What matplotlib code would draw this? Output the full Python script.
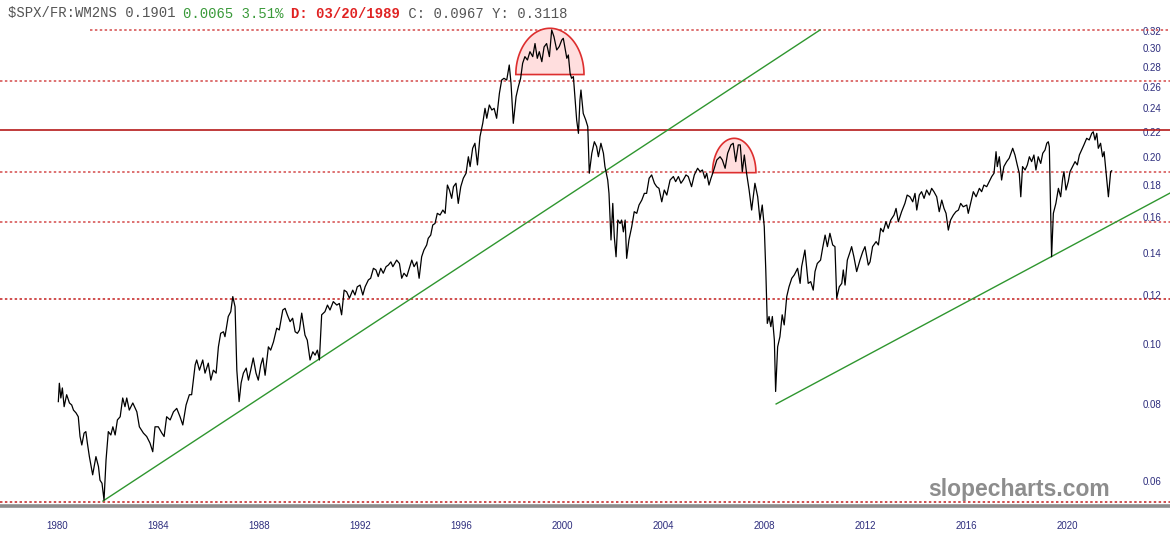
import numpy as np
import matplotlib
matplotlib.use("Agg")
import matplotlib.pyplot as plt
from matplotlib.ticker import NullLocator

# ---------------- data ----------------
ratio_1980s = [
    (1980.05, .0806), (1980.09, .0863), (1980.15, .0817), (1980.21, .0848), (1980.28, .0791),
    (1980.38, .0827), (1980.49, .0802), (1980.58, .0796), (1980.65, .0781), (1980.75, .0773),
    (1980.84, .0762), (1980.91, .0708), (1980.98, .0686), (1981.07, .0717), (1981.14, .0721),
    (1981.20, .0691), (1981.28, .0657), (1981.41, .0614), (1981.54, .0657), (1981.64, .0633),
    (1981.70, .0602), (1981.78, .0595), (1981.86, .0559), (1981.94, .0649), (1982.03, .0721),
    (1982.13, .0712), (1982.21, .0734), (1982.30, .0712), (1982.39, .0753), (1982.50, .0762),
    (1982.60, .0817), (1982.69, .0791), (1982.76, .0817), (1982.86, .0781), (1983.00, .0802),
    (1983.16, .0776), (1983.26, .0734), (1983.42, .0717), (1983.55, .0708), (1983.68, .0691),
    (1983.79, .0669), (1983.88, .0734), (1984.01, .0734), (1984.15, .0717), (1984.24, .0708),
    (1984.34, .0762), (1984.48, .0753), (1984.61, .0776), (1984.74, .0786), (1984.87, .0762),
    (1984.98, .0739), (1985.11, .0796), (1985.24, .0827), (1985.33, .0827), (1985.47, .0924),
    (1985.53, .0941), (1985.64, .0906), (1985.77, .0941), (1985.86, .0896), (1985.99, .0930),
    (1986.09, .0873), (1986.19, .0906), (1986.30, .0896), (1986.39, .0988), (1986.48, .1039),
    (1986.59, .1045), (1986.65, .1026), (1986.78, .1106), (1986.88, .1126), (1986.96, .1191),
    (1987.05, .1147), (1987.12, .0906), (1987.21, .0806), (1987.29, .0864), (1987.38, .0896),
    (1987.49, .0913), (1987.58, .0873), (1987.67, .0906), (1987.77, .0948), (1987.88, .0896),
    (1987.97, .0873), (1988.07, .0924), (1988.15, .0948), (1988.24, .0889), (1988.37, .0988),
    (1988.46, .0976), (1988.57, .1006), (1988.70, .1059), (1988.80, .1052), (1988.94, .1133),
    (1989.03, .1140), (1989.12, .1113), (1989.23, .1085), (1989.33, .1099), (1989.43, .1045),
    (1989.52, .1039), (1989.60, .1052), (1989.69, .1120), (1989.82, .1032), (1989.91, .1013),
]
ratio_1990s = [
    (1990.02, .0941), (1990.13, .0970), (1990.22, .0958), (1990.31, .0976), (1990.39, .0941),
    (1990.48, .1113), (1990.61, .1126), (1990.71, .1154), (1990.81, .1133), (1990.94, .1169),
    (1991.08, .1154), (1991.18, .1161), (1991.27, .1113), (1991.37, .1220), (1991.47, .1212),
    (1991.58, .1184), (1991.71, .1220), (1991.80, .1198), (1991.89, .1235), (1992.00, .1243),
    (1992.11, .1198), (1992.20, .1235), (1992.33, .1267), (1992.42, .1275), (1992.53, .1323),
    (1992.63, .1315), (1992.72, .1283), (1992.82, .1323), (1992.92, .1299), (1993.03, .1331),
    (1993.12, .1339), (1993.22, .1355), (1993.30, .1331), (1993.45, .1364), (1993.56, .1347),
    (1993.65, .1275), (1993.74, .1299), (1993.85, .1283), (1993.95, .1323), (1994.05, .1364),
    (1994.14, .1331), (1994.25, .1355), (1994.34, .1275), (1994.44, .1381), (1994.53, .1416),
    (1994.64, .1443), (1994.70, .1479), (1994.80, .1497), (1994.88, .1554), (1994.97, .1563),
    (1995.06, .1623), (1995.17, .1613), (1995.28, .1643), (1995.37, .1623), (1995.46, .1803),
    (1995.54, .1770), (1995.63, .1716), (1995.70, .1792), (1995.80, .1815), (1995.89, .1684),
    (1995.99, .1792), (1996.09, .1849), (1996.20, .1884), (1996.29, .2003), (1996.36, .1931),
    (1996.46, .2067), (1996.55, .2106), (1996.65, .1943), (1996.75, .2158), (1996.86, .2268),
    (1996.95, .2398), (1997.02, .2311), (1997.12, .2428), (1997.22, .2383), (1997.31, .2398),
    (1997.41, .2311), (1997.52, .2536), (1997.61, .2664), (1997.70, .2681), (1997.81, .2664),
    (1997.91, .2817), (1997.98, .2631), (1998.07, .2268), (1998.18, .2504), (1998.27, .2599),
    (1998.36, .2681), (1998.44, .2835), (1998.53, .2906), (1998.63, .2870), (1998.73, .2960),
    (1998.84, .2906), (1998.93, .3051), (1999.02, .2888), (1999.10, .2960), (1999.20, .2852),
    (1999.29, .3013), (1999.39, .3051), (1999.50, .2906), (1999.59, .3209), (1999.68, .3130),
    (1999.79, .2979), (1999.89, .3017),
]
ratio_2000s = [
    (1999.99, .3091), (2000.05, .3111), (2000.12, .2998), (2000.19, .2888), (2000.25, .2924),
    (2000.32, .2730), (2000.38, .2681), (2000.45, .2698), (2000.51, .2504), (2000.58, .2296),
    (2000.65, .2185), (2000.71, .2473), (2000.75, .2567), (2000.84, .2353), (2000.94, .2296),
    (2001.02, .2240), (2001.08, .1884), (2001.18, .2029), (2001.28, .2118), (2001.37, .2080),
    (2001.44, .2003), (2001.54, .2106), (2001.64, .2029), (2001.70, .1931), (2001.81, .1837),
    (2001.86, .1748), (2001.94, .1470), (2002.01, .1684), (2002.07, .1488), (2002.14, .1381),
    (2002.21, .1583), (2002.30, .1563), (2002.36, .1583), (2002.43, .1515), (2002.50, .1583),
    (2002.56, .1373), (2002.65, .1470), (2002.76, .1544), (2002.86, .1633), (2002.96, .1623),
    (2003.05, .1674), (2003.16, .1705), (2003.26, .1748), (2003.35, .1748), (2003.45, .1849),
    (2003.55, .1872), (2003.66, .1815), (2003.75, .1792), (2003.84, .1781), (2003.95, .1694),
    (2004.05, .1770), (2004.15, .1737), (2004.28, .1837), (2004.41, .1861), (2004.50, .1826),
    (2004.61, .1861), (2004.71, .1815), (2004.80, .1837), (2004.91, .1872), (2005.00, .1861),
    (2005.13, .1792), (2005.24, .1872), (2005.37, .1919), (2005.47, .1895), (2005.56, .1907),
    (2005.66, .1849), (2005.73, .1884), (2005.82, .1803), (2005.90, .1849), (2005.99, .1895),
    (2006.13, .1979), (2006.26, .2003), (2006.35, .1979), (2006.46, .1919), (2006.56, .2029),
    (2006.69, .2093), (2006.78, .2106), (2006.88, .1967), (2006.98, .2093), (2007.06, .2093),
    (2007.14, .1895), (2007.22, .2016), (2007.31, .1884), (2007.41, .1770), (2007.51, .1643),
    (2007.64, .1815), (2007.75, .1726), (2007.84, .1583), (2007.93, .1674), (2008.01, .1544),
    (2008.07, .1315), (2008.13, .1078), (2008.20, .1106), (2008.27, .1065), (2008.33, .1106),
    (2008.41, .1013), (2008.46, .0837), (2008.54, .0988), (2008.63, .1026), (2008.72, .1113),
    (2008.80, .1072), (2008.90, .1191), (2008.99, .1235), (2009.10, .1275), (2009.20, .1291),
    (2009.33, .1323), (2009.43, .1251),
]
ratio_2010s = [
    (2009.49, .1331), (2009.62, .1416), (2009.75, .1251), (2009.85, .1259), (2009.95, .1220),
    (2010.02, .1307), (2010.11, .1347), (2010.24, .1364), (2010.32, .1425), (2010.42, .1497),
    (2010.51, .1434), (2010.61, .1507), (2010.72, .1443), (2010.81, .1434), (2010.88, .1184),
    (2010.98, .1235), (2011.08, .1251), (2011.14, .1315), (2011.21, .1243), (2011.30, .1364),
    (2011.41, .1407), (2011.47, .1434), (2011.56, .1381), (2011.67, .1307), (2011.80, .1364),
    (2011.91, .1407), (2012.00, .1434), (2012.13, .1339), (2012.20, .1355), (2012.30, .1434),
    (2012.44, .1461), (2012.53, .1443), (2012.62, .1535), (2012.72, .1515), (2012.83, .1573),
    (2012.92, .1535), (2013.02, .1583), (2013.15, .1613), (2013.23, .1653), (2013.32, .1573),
    (2013.45, .1633), (2013.58, .1684), (2013.67, .1737), (2013.78, .1726), (2013.89, .1694),
    (2013.98, .1748), (2014.05, .1643), (2014.15, .1737), (2014.24, .1759), (2014.34, .1716),
    (2014.44, .1770), (2014.55, .1737), (2014.64, .1781), (2014.73, .1759), (2014.84, .1726),
    (2014.94, .1633), (2015.04, .1705), (2015.13, .1653), (2015.21, .1623), (2015.30, .1525),
    (2015.39, .1583), (2015.50, .1613), (2015.60, .1633), (2015.70, .1643), (2015.79, .1684),
    (2015.89, .1663), (2016.03, .1674), (2016.09, .1623), (2016.18, .1684), (2016.29, .1759),
    (2016.40, .1726), (2016.53, .1781), (2016.62, .1759), (2016.71, .1803), (2016.82, .1792),
    (2016.92, .1826), (2017.02, .1861), (2017.11, .1884), (2017.19, .2041), (2017.24, .1931),
    (2017.32, .2003), (2017.41, .1837), (2017.50, .1931), (2017.61, .1967), (2017.71, .1992),
    (2017.85, .2067), (2017.94, .2016), (2018.03, .1943), (2018.11, .1884), (2018.17, .1726),
    (2018.24, .1931), (2018.34, .1907), (2018.43, .1943), (2018.51, .2003), (2018.60, .1967),
    (2018.69, .2016), (2018.77, .1907), (2018.86, .2003), (2018.96, .1954), (2019.04, .2029),
    (2019.13, .2054), (2019.20, .2106), (2019.26, .2118), (2019.30, .2080), (2019.36, .1583),
    (2019.39, .1381), (2019.46, .1623), (2019.56, .1684), (2019.66, .1781), (2019.75, .1726),
    (2019.83, .1849), (2019.88, .1895), (2019.96, .1770),
]
ratio_2020s = [
    (2020.05, .1826), (2020.12, .1895), (2020.22, .1931), (2020.32, .1967), (2020.41, .1943),
    (2020.49, .2016), (2020.58, .2054), (2020.67, .2093), (2020.78, .2145), (2020.88, .2132),
    (2020.98, .2185), (2021.04, .2198), (2021.11, .2132), (2021.18, .2185), (2021.24, .2067),
    (2021.33, .2106), (2021.41, .2003), (2021.47, .2041), (2021.54, .1907), (2021.64, .1726),
    (2021.73, .1895), (2021.77, .1901),
]

# horizontal levels
dotted_levels = [0.3209, 0.2655, 0.1892, 0.157, 0.118, 0.0555]
solid_level = 0.2212

# trend lines (start year, start value, end year, end value)
trend_1 = (1981.82, 0.0557, 2010.22, 0.3209)
trend_2 = (2008.48, 0.0799, 2024.08, 0.175)

# half-dome annotations (center year, half width in years, base value, top value)
domes = [(1999.52, 1.35, 0.2719, 0.3229), (2006.82, 0.86, 0.1888, 0.2145)]

x_ticks = [1980, 1984, 1988, 1992, 1996, 2000, 2004, 2008, 2012, 2016, 2020]
y_ticks = [0.06, 0.08, 0.10, 0.12, 0.14, 0.16, 0.18, 0.20, 0.22, 0.24, 0.26, 0.28, 0.30, 0.32]

header_parts = [
    ("$SPX/FR:WM2NS 0.1901 ", "#555555", "normal"),
    ("0.0065 3.51% ", "#3a9a3a", "normal"),
    ("D: 03/20/1989", "#e02222", "bold"),
    (" C: 0.0967 Y: 0.3118", "#555555", "normal"),
]

# ---------------- figure ----------------
W, H, DPI = 1170, 546, 100
fig = plt.figure(figsize=(W / DPI, H / DPI), dpi=DPI)
fig.patch.set_facecolor("white")
ax = fig.add_axes([0, 40 / H, 1, 486 / H])
ax.set_facecolor("white")
ax.set_yscale("log")
ax.set_xlim(1977.74, 2024.08)
ax.set_ylim(0.05468, 0.3330)

tick_font = ["Liberation Sans Narrow", "Liberation Sans", "DejaVu Sans"]
tick_color = "#2d2d7d"

# horizontal levels
for i, lv in enumerate(dotted_levels):
    xmin = 90 / W if i == 0 else 0
    col = "#c41e1e" if lv < 0.13 else "#d44a4a"
    ax.axhline(lv, xmin=xmin, xmax=1, color=col, lw=1.1, ls=(0, (1.6, 1.6)), zorder=2)
ax.axhline(solid_level, color="#b51a1a", lw=1.2, zorder=2)

# domes
for cx, hw, base, top in domes:
    t = np.linspace(0, np.pi, 80)
    xs = cx + hw * np.cos(t)
    ys = np.exp(np.log(base) + (np.log(top) - np.log(base)) * np.sin(t))
    ax.fill(xs, ys, facecolor="#ffdede", edgecolor="#dd2e2e", lw=1.2, zorder=3)

# series
series = ratio_1980s + ratio_1990s + ratio_2000s + ratio_2010s + ratio_2020s
yrs = [p[0] for p in series]
vals = [p[1] for p in series]
ax.plot(yrs, vals, color="black", lw=0.9, zorder=5)

# trend lines
for x0, y0, x1, y1 in (trend_1, trend_2):
    ax.plot([x0, x1], [y0, y1], color="#2f962f", lw=1.0, zorder=4)

# axes styling
for s in ("top", "left", "right"):
    ax.spines[s].set_visible(False)
ax.spines["bottom"].set_color("#8c8c8c")
ax.spines["bottom"].set_linewidth(2.6)

ax.set_xticks(x_ticks)
ax.set_xticklabels([str(y) for y in x_ticks])
ax.tick_params(axis="x", length=0, pad=10.5, labelsize=7, colors=tick_color)
ax.set_yticks(y_ticks)
ax.yaxis.set_minor_locator(NullLocator())
ax.set_yticklabels([f"{v:.2f}" for v in y_ticks])
ax.tick_params(axis="y", which="both", left=False, labelleft=False, right=False,
               labelright=True, length=0, pad=-19.5, labelsize=7, colors=tick_color)
for lab in ax.get_xticklabels() + ax.get_yticklabels():
    lab.set_family(tick_font)

# header
x_px = 8
char_w = 0.6 * 10 * DPI / 72
for txt, col, wt in header_parts:
    fig.text(x_px / W, 1 - 17.5 / H, txt, color=col, fontsize=10, fontweight=wt,
             family=["Liberation Mono", "DejaVu Sans Mono"], va="baseline", ha="left")
    x_px += len(txt) * char_w

# watermark
fig.text(1019 / W, 1 - 496 / H, "slopecharts.com", color="#8d8d8d", fontsize=16.5,
         fontweight="bold", family=["Liberation Sans", "DejaVu Sans"],
         ha="center", va="baseline", zorder=10)

fig.savefig("out.png", dpi=DPI, facecolor="white")
